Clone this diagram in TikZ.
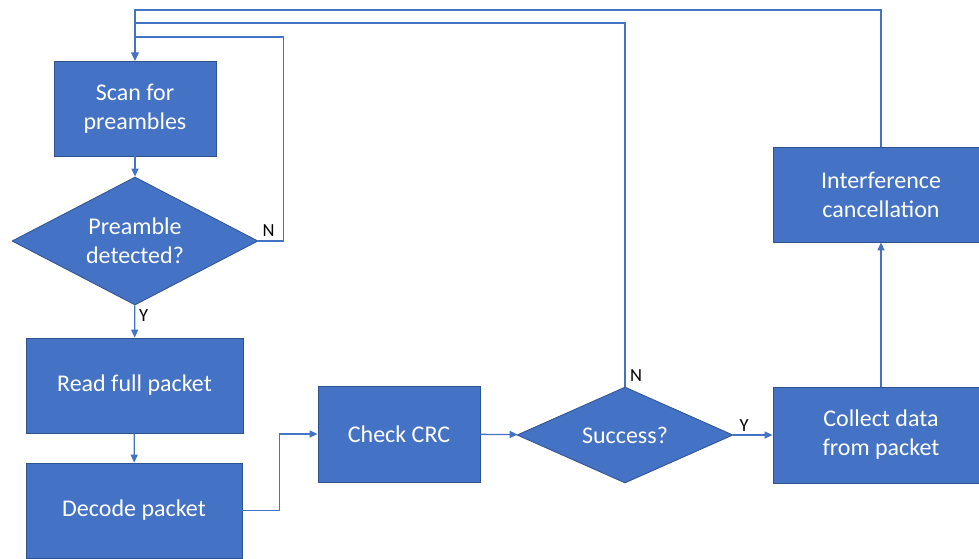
\documentclass[tikz,border=0pt]{standalone}
\usepackage{fontspec}
\setmainfont{Carlito}
\usetikzlibrary{shapes.geometric,arrows.meta}
\definecolor{fillblue}{HTML}{4472C4}
\definecolor{edgeblue}{HTML}{2F528F}
\definecolor{lineblue}{HTML}{4472C4}
\begin{document}
\begin{tikzpicture}[x=1pt,y=-1pt,
  procbox/.style={rectangle, fill=fillblue, draw=edgeblue, line width=0.8pt, text=white, align=center, font=\fontsize{24}{29}\selectfont, inner sep=0pt},
  decbox/.style={diamond, fill=fillblue, draw=edgeblue, line width=0.8pt, text=white, align=center, font=\fontsize{24}{29}\selectfont, inner sep=0pt},
  conn/.style={draw=lineblue, line width=1.3pt, -{Triangle[length=8pt,width=7pt]}},
  lbl/.style={font=\fontsize{18.5}{21}\selectfont, text=black, inner sep=1pt}]
\useasboundingbox (0,0) rectangle (979,558);
\node[procbox, minimum width=162pt, minimum height=95pt] (scan) at (135,108.5) {Scan for\\preambles};
\node[decbox, minimum width=246pt, minimum height=128pt, aspect=1.92] (pd) at (135,241) {Preamble\\detected?};
\node[procbox, minimum width=217pt, minimum height=95pt] (read) at (134.5,385.5) {Read full packet};
\node[procbox, minimum width=216pt, minimum height=95pt] (dec) at (134,510.5) {Decode packet};
\node[procbox, minimum width=162pt, minimum height=96pt] (crc) at (399,434) {Check CRC};
\node[decbox, minimum width=216pt, minimum height=96pt, aspect=2.25] (succ) at (625,435) {Success?};
\node[procbox, minimum width=216pt, minimum height=96pt] (col) at (881,435) {Collect data\\from packet};
\node[procbox, minimum width=216pt, minimum height=95pt] (intf) at (881,194.5) {Interference\\cancellation};

\draw[conn] (intf.north) |- (scan.north |- 0,10) -- (scan.north);
\draw[conn] (succ.north) |- (scan.north |- 0,23) -- (scan.north);
\draw[conn] (pd.east) -- ++(25,0) |- (scan.north |- 0,37) -- (scan.north);
\draw[conn] (scan) -- (pd);
\draw[conn] (pd) -- (read);
\draw[conn] (read) -- (dec);
\draw[conn] (dec.east) -- ++(37,0) |- (crc.west);
\draw[conn] (crc) -- (succ);
\draw[conn] (succ) -- (col);
\draw[conn] (col) -- (intf);

\node[lbl, anchor=north west, xshift=3pt, yshift=-3pt] (ly1) at (pd.south) {Y};
\node[lbl, anchor=south west, xshift=3pt, yshift=3pt] (ln1) at (pd.east) {N};
\node[lbl, anchor=south west, xshift=4pt, yshift=4pt] (ln2) at (succ.north) {N};
\node[lbl, anchor=south west, xshift=5pt, yshift=2pt] (ly2) at (succ.east) {Y};
\end{tikzpicture}
\end{document}
